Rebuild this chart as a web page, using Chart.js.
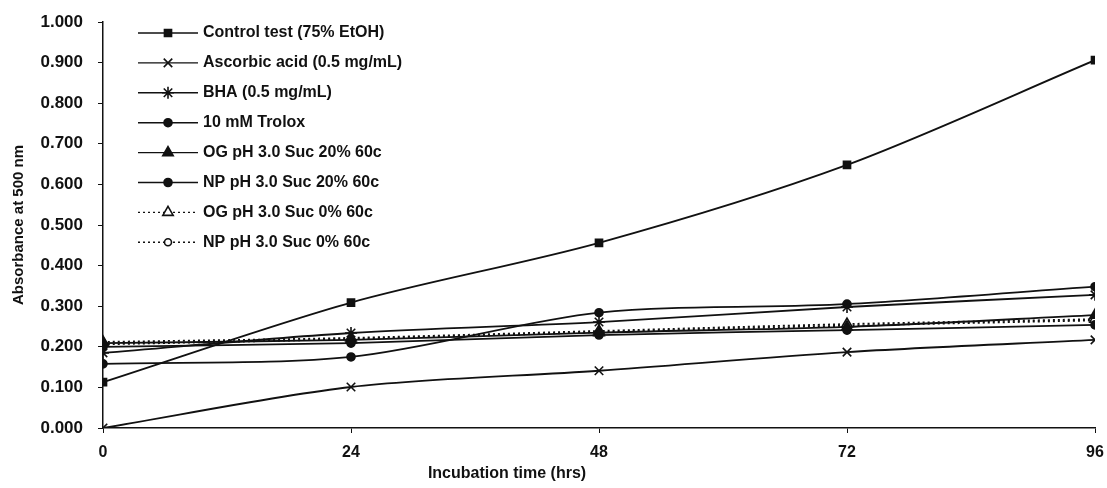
<!DOCTYPE html>
<html>
<head>
<meta charset="utf-8">
<script src="https://cdn.jsdelivr.net/npm/chart.js@4.4.1/dist/chart.umd.min.js"></script>
<style>
  html, body { margin: 0; padding: 0; background: #fff; }
  #wrap { width: 1107px; height: 488px; }
</style>
</head>
<body>
<div id="wrap"><canvas id="chart"></canvas></div>
<script>
const hours = [0, 24, 48, 72, 96];
const xTicks = [0, 24, 48, 72, 96];

const control   = [0.113, 0.309, 0.456, 0.648, 0.906];
const ascorbic  = [0.000, 0.101, 0.141, 0.187, 0.217];
const bha       = [0.185, 0.234, 0.261, 0.298, 0.328];
const trolox    = [0.158, 0.175, 0.284, 0.305, 0.348];
const og20      = [0.209, 0.217, 0.235, 0.249, 0.278];
const np20      = [0.200, 0.209, 0.229, 0.241, 0.254];
const og0       = [0.212, 0.222, 0.239, 0.256, 0.268];
const np0       = [0.206, 0.219, 0.236, 0.252, 0.265];

const INK = '#111';
const FONT = '"Liberation Sans", Arial, sans-serif';

function series(label, values, style, radius, fill, dashed) {
    return {
        label: label,
        data: values.map((v, i) => ({ x: hours[i], y: v })),
        borderColor: INK,
        borderWidth: 1.8,
        borderDash: dashed ? [2, 3] : [],
        pointStyle: style,
        pointRadius: radius,
        pointBackgroundColor: fill,
        pointBorderColor: INK,
        pointBorderWidth: 1.6,
        tension: 0.3,
        fill: false
    };
}

const datasets = [
    series('Control test (75% EtOH)', control, 'rect', 5, INK, false),
    series('Ascorbic acid (0.5 mg/mL)', ascorbic, 'crossRot', 6, INK, false),
    series('BHA (0.5 mg/mL)', bha, 'star', 6, INK, false),
    series('10 mM Trolox', trolox, 'circle', 4, INK, false),
    series('OG pH 3.0 Suc 20% 60c', og20, 'triangle', 6, INK, false),
    series('NP pH 3.0 Suc 20% 60c', np20, 'circle', 4, INK, false),
    series('OG pH 3.0 Suc 0% 60c', og0, 'triangle', 6, '#fff', true),
    series('NP pH 3.0 Suc 0% 60c', np0, 'circle', 3.5, '#fff', true)
];

// legend inside the plot (line + marker + label) and the x title, which sits left of centre
const sampleLegend = {
    id: 'sampleLegend',
    afterDraw(chart) {
        const ctx = chart.ctx;
        chart.data.datasets.forEach((ds, i) => {
            const y = 33 + i * 29.9;
            ctx.save();
            ctx.strokeStyle = INK;
            ctx.lineWidth = 1.4;
            ctx.setLineDash(ds.borderDash);
            ctx.beginPath();
            ctx.moveTo(138, y);
            ctx.lineTo(198, y);
            ctx.stroke();
            ctx.setLineDash([]);
            ctx.fillStyle = ds.pointBackgroundColor;
            ctx.strokeStyle = INK;
            ctx.lineWidth = 1.6;
            Chart.helpers.drawPoint(ctx, {
                pointStyle: ds.pointStyle,
                radius: ds.pointRadius,
                rotation: 0,
                borderWidth: 1.6
            }, 168, y);
            ctx.fillStyle = INK;
            ctx.font = 'bold 16px ' + FONT;
            ctx.textBaseline = 'middle';
            ctx.fillText(ds.label, 203, y);
            ctx.restore();
        });

        ctx.save();
        ctx.fillStyle = INK;
        ctx.font = 'bold 16px ' + FONT;
        ctx.textAlign = 'center';
        ctx.textBaseline = 'middle';
        ctx.fillText('Incubation time (hrs)', 507, 474);
        ctx.restore();
    }
};

new Chart(document.getElementById('chart'), {
    type: 'line',
    data: { datasets: datasets },
    plugins: [sampleLegend],
    options: {
        responsive: true,
        maintainAspectRatio: false,
        animation: false,
        layout: { padding: { top: 22, right: 12, left: 0, bottom: 0 } },
        scales: {
            x: {
                type: 'linear',
                min: 0,
                max: 96,
                afterBuildTicks: (scale) => { scale.ticks = xTicks.map(v => ({ value: v })); },
                afterFit: (scale) => {
                    scale.height = 60;
                    scale.paddingLeft = 0;
                    scale.paddingRight = 0;
                },
                border: { color: INK, width: 1.5 },
                grid: { drawOnChartArea: false, tickLength: 5, color: INK, tickColor: INK },
                ticks: {
                    color: INK,
                    font: { family: FONT, size: 16, weight: 'bold' },
                    padding: 10,
                    maxRotation: 0
                }
            },
            y: {
                min: 0,
                max: 1,
                afterFit: (scale) => {
                    scale.width = 103;
                    scale.paddingTop = 0;
                    scale.paddingBottom = 0;
                },
                border: { color: INK, width: 1.5 },
                grid: { drawOnChartArea: false, tickLength: 5, color: INK, tickColor: INK },
                ticks: {
                    stepSize: 0.1,
                    color: INK,
                    font: { family: FONT, size: 17, weight: 'bold' },
                    padding: 15,
                    callback: (v) => v.toFixed(3)
                },
                title: {
                    display: true,
                    text: 'Absorbance at 500 nm',
                    color: INK,
                    font: { family: FONT, size: 15, weight: 'bold' },
                    padding: { top: 10, bottom: 0 }
                }
            }
        },
        plugins: {
            legend: { display: false },
            tooltip: { enabled: false }
        }
    }
});
</script>
</body>
</html>
